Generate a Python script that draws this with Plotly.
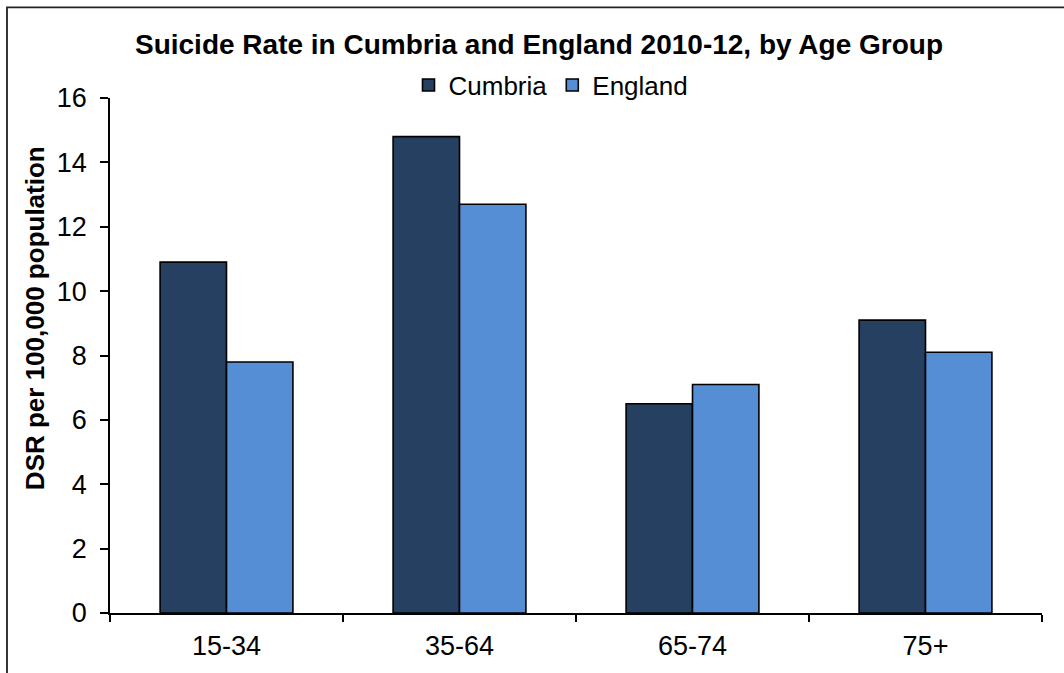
import plotly.graph_objects as go

age_groups = ["15-34", "35-64", "65-74", "75+"]
cumbria = [10.9, 14.8, 6.5, 9.1]
england = [7.8, 12.7, 7.1, 8.1]
y_ticks = [0, 2, 4, 6, 8, 10, 12, 14, 16]

FONT = "Liberation Sans, Arial, sans-serif"
W, H = 1064, 673
L, R, T, B = 110, 22, 98, 58
pw, ph = W - L - R, H - T - B

def px_x(p):
    return (p - L) / pw

def px_y(p):
    return (H - B - p) / ph

fig = go.Figure()
fig.add_trace(go.Bar(name="Cumbria", x=age_groups, y=cumbria,
                     marker=dict(color="#264061", line=dict(color="black", width=1.6))))
fig.add_trace(go.Bar(name="England", x=age_groups, y=england,
                     marker=dict(color="#558ED5", line=dict(color="black", width=1.6))))

fig.update_layout(
    width=W, height=H,
    margin=dict(l=L, r=R, t=T, b=B, pad=0),
    paper_bgcolor="white", plot_bgcolor="white",
    font=dict(family=FONT, color="black", size=26),
    barmode="group", bargap=0.43, bargroupgap=0,
    title=dict(text="<b>Suicide Rate in Cumbria and England 2010-12, by Age Group</b>",
               font=dict(size=28, family=FONT, color="black"),
               x=539 / W, xanchor="center", xref="container",
               y=1 - 44 / H, yanchor="middle", yref="container"),
    legend=dict(orientation="h", x=px_x(551), xanchor="center",
                y=px_y(85), yanchor="middle", font=dict(size=26),
                bgcolor="rgba(0,0,0,0)", itemwidth=30, tracegroupgap=0),
    xaxis=dict(type="category", showline=True, linecolor="black", linewidth=1.5,
               ticks="outside", tickson="boundaries", ticklen=7, tickwidth=1.5,
               tickcolor="black", showgrid=False, ticklabelstandoff=8,
               tickfont=dict(size=27)),
    yaxis=dict(range=[0, 16], tickvals=y_ticks, showline=True, linecolor="black",
               linewidth=1.5, ticks="outside", ticklen=8, tickwidth=1.5,
               tickcolor="black", showgrid=False, zeroline=False,
               ticklabelstandoff=8, tickfont=dict(size=27)),
    showlegend=True,
)

fig.add_annotation(text="<b>DSR per 100,000 population</b>", textangle=-90,
                   xref="paper", yref="paper", x=px_x(35), y=px_y(319),
                   xanchor="center", yanchor="middle", showarrow=False,
                   font=dict(size=26, family=FONT, color="black"))

fig.add_shape(type="rect", xref="paper", yref="paper",
              x0=px_x(7), x1=px_x(W + 10), y0=px_y(H + 10), y1=px_y(7),
              line=dict(color="#222222", width=1.8), fillcolor="rgba(0,0,0,0)",
              layer="above")

fig.write_html("out.html")
